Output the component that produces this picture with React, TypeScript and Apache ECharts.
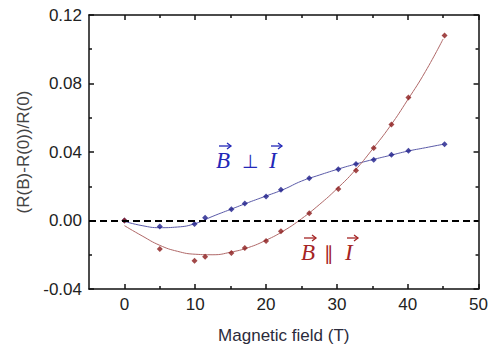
import React, { useEffect, useRef } from "react";
import * as echarts from "echarts";

const fieldPts = [0, 5, 9.9, 11.4, 15.1, 17, 20, 22.1, 26.1, 30.2, 32.7, 35.2, 37.7, 40.1, 45.2];
const perpVals = [0, -0.0035, -0.002, 0.0016, 0.0065, 0.01, 0.014, 0.018, 0.0247, 0.03, 0.033, 0.0355, 0.0384, 0.0408, 0.0445];
const paraVals = [0, -0.0167, -0.0235, -0.0212, -0.019, -0.016, -0.012, -0.0063, 0.0043, 0.0184, 0.0292, 0.0424, 0.056, 0.0718, 0.108];

const fitField = [0, 2.5, 5, 7.5, 10, 12.5, 15, 17.5, 20, 22.5, 25, 27.5, 30, 32.5, 35, 37.5, 40, 42.5, 45];
const perpFit = [-0.0005, -0.003, -0.0042, -0.0038, -0.0018, 0.0025, 0.0065, 0.0105, 0.0143, 0.0182, 0.023, 0.0265, 0.0298, 0.0328, 0.0355, 0.038, 0.0405, 0.0425, 0.0445];
const paraFit = [-0.003, -0.009, -0.0145, -0.018, -0.0197, -0.02, -0.0185, -0.0158, -0.0115, -0.006, 0.001, 0.0092, 0.0185, 0.029, 0.0415, 0.055, 0.0705, 0.087, 0.106];

const xMajor = [0, 10, 20, 30, 40, 50];
const xMinor = [5, 15, 25, 35, 45];

const BLUE = "#1c1c8a";
const RED = "#8b1a1a";
const BLUE_TXT = "#2328b8";
const RED_TXT = "#a52424";
const AX = "#111";

function arrow(x1: number, x2: number, y: number, color: string) {
  return [
    { type: "line", shape: { x1, y1: y, x2, y2: y }, style: { stroke: color, lineWidth: 1.3 } },
    {
      type: "polyline",
      shape: { points: [[x2 - 4, y - 3], [x2, y], [x2 - 4, y + 3]] },
      style: { stroke: color, lineWidth: 1.3, fill: null },
    },
  ];
}

function label(text: string, x: number, y: number, color: string, italic: boolean, size: number, family: string) {
  return {
    type: "text",
    x,
    y,
    style: {
      text,
      fill: color,
      fontSize: size,
      fontStyle: italic ? "italic" : "normal",
      fontFamily: family,
      textVerticalAlign: "middle",
      textAlign: "left",
    },
  };
}

export default function App() {
  const ref = useRef<HTMLDivElement>(null);
  useEffect(() => {
    document.body.style.margin = "0";
    if (!ref.current) return;
    const chart = echarts.init(ref.current, undefined, { renderer: "svg" });
    const serif = "Liberation Serif";
    const line = (show: boolean) => ({ show, onZero: false, lineStyle: { color: AX, width: 1.5 } });
    const axisCommon = {
      type: "value",
      min: -5,
      max: 50,
      splitLine: { show: false },
    };
    chart.setOption({
      animation: false,
      backgroundColor: "#ffffff",
      grid: { left: 89, right: 10, top: 15, bottom: 61 },
      xAxis: [
        {
          ...axisCommon,
          position: "bottom",
          axisLine: line(true),
          name: "Magnetic field (T)",
          nameLocation: "middle",
          nameGap: 38,
          nameTextStyle: { fontFamily: "Liberation Sans", fontSize: 17, color: "#2b2b3b" },
          axisTick: { show: true, inside: true, length: 5, customValues: xMajor, lineStyle: { color: AX, width: 1.5 } },
          axisLabel: { show: true, customValues: xMajor, margin: 7, fontFamily: "Liberation Sans", fontSize: 17, color: "#222" },
        },
        {
          ...axisCommon,
          position: "bottom",
          axisLine: line(false),
          axisTick: { show: true, inside: true, length: 3, customValues: xMinor, lineStyle: { color: AX, width: 1.5 } },
          axisLabel: { show: false },
        },
        {
          ...axisCommon,
          position: "top",
          axisLine: line(true),
          axisTick: { show: true, inside: true, length: 5, customValues: xMajor, lineStyle: { color: AX, width: 1.5 } },
          axisLabel: { show: false },
        },
        {
          ...axisCommon,
          position: "top",
          axisLine: line(false),
          axisTick: { show: true, inside: true, length: 3, customValues: xMinor, lineStyle: { color: AX, width: 1.5 } },
          axisLabel: { show: false },
        },
      ],
      yAxis: [
        {
          type: "value",
          min: -0.04,
          max: 0.12,
          interval: 0.04,
          position: "left",
          name: "(R(B)-R(0))/R(0)",
          nameLocation: "middle",
          nameGap: 54,
          nameTextStyle: { fontFamily: "Liberation Sans", fontSize: 17, color: "#444" },
          axisLine: line(true),
          splitLine: { show: false },
          axisTick: { show: true, inside: true, length: 5, lineStyle: { color: AX, width: 1.5 } },
          minorTick: { show: true, splitNumber: 2, length: 3, lineStyle: { color: AX, width: 1.5 } },
          axisLabel: { margin: 7, fontFamily: "Liberation Sans", fontSize: 17, color: "#222", formatter: (v: number) => v.toFixed(2) },
        },
        {
          type: "value",
          min: -0.04,
          max: 0.12,
          interval: 0.04,
          position: "right",
          axisLine: line(true),
          splitLine: { show: false },
          axisTick: { show: true, inside: true, length: 5, lineStyle: { color: AX, width: 1.5 } },
          minorTick: { show: true, splitNumber: 2, length: 3, lineStyle: { color: AX, width: 1.5 } },
          axisLabel: { show: false },
        },
      ],
      series: [
        {
          type: "line",
          name: "perp fit",
          data: fitField.map((x, i) => [x, perpFit[i]]),
          smooth: true,
          symbol: "none",
          lineStyle: { color: "#5a5aa8", width: 1 },
          z: 2,
          markLine: {
            silent: true,
            symbol: "none",
            label: { show: false },
            lineStyle: { color: "#000", width: 2, type: [7, 4] },
            data: [{ yAxis: 0 }],
          },
        },
        {
          type: "line",
          name: "para fit",
          data: fitField.map((x, i) => [x, paraFit[i]]),
          smooth: true,
          symbol: "none",
          lineStyle: { color: "#b06868", width: 1 },
          z: 2,
        },
        {
          type: "scatter",
          name: "B perp I",
          data: fieldPts.map((x, i) => [x, perpVals[i]]),
          symbol: "diamond",
          symbolSize: 6,
          itemStyle: { color: BLUE },
          z: 3,
        },
        {
          type: "scatter",
          name: "B para I",
          data: fieldPts.map((x, i) => [x, paraVals[i]]),
          symbol: "diamond",
          symbolSize: 6,
          itemStyle: { color: RED },
          z: 3,
        },
      ],
      graphic: [
        label("B", 216, 160, BLUE_TXT, true, 23, serif),
        label("\u22A5", 242, 161, BLUE_TXT, false, 19, "DejaVu Sans"),
        label("I", 269, 160, BLUE_TXT, true, 23, serif),
        ...arrow(219, 231, 146, BLUE_TXT),
        ...arrow(271, 282, 146, BLUE_TXT),
        label("B", 301, 252, RED_TXT, true, 23, serif),
        label("\u2225", 324, 253, RED_TXT, false, 19, "DejaVu Sans"),
        label("I", 345, 252, RED_TXT, true, 23, serif),
        ...arrow(304, 316, 238, RED_TXT),
        ...arrow(347, 358, 238, RED_TXT),
      ],
    });
    return () => chart.dispose();
  }, []);
  return <div ref={ref} style={{ width: 491, height: 350 }} />;
}
